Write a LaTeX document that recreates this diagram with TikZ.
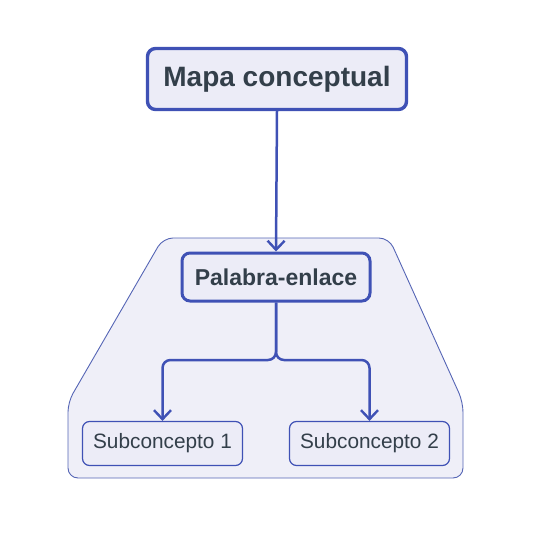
\documentclass[tikz,border=0pt]{standalone}
\usepackage{fontspec}
\setmainfont{Liberation Sans}
\usetikzlibrary{arrows.meta}

\definecolor{edgeblue}{HTML}{3F51B5}
\definecolor{boxfill}{HTML}{ECECF7}
\definecolor{zonefill}{HTML}{EFEFF8}
\definecolor{zoneline}{HTML}{5565B5}
\definecolor{inkgrey}{HTML}{333F4A}

\tikzset{
  concept/.style={draw=edgeblue, fill=boxfill, text=inkgrey, rounded corners=8pt, inner sep=0pt},
  link/.style={draw=edgeblue, line width=2.5pt, rounded corners=8pt,
    -{Straight Barb[length=9pt,width=17pt,line width=2.4pt]}}
}

\begin{document}
\begin{tikzpicture}[x=1pt,y=-1pt]

        \useasboundingbox (0,0) rectangle (534,536);

        % zona de fondo
        \path[fill=zonefill, draw=zoneline, line width=0.9pt, rounded corners=10pt]
          (163,238) -- (389,238) -- (463,402) -- (463,478) -- (68,478) -- (68,402) -- cycle;

        \begin{scope}[every node/.style={concept}]
          \node[line width=3.4pt, minimum width=259pt, minimum height=61pt,
                font=\bfseries\fontsize{28}{32}\selectfont] (mapa) at (277,79) {Mapa conceptual};
          \node[line width=3pt, minimum width=188pt, minimum height=48pt,
                font=\bfseries\fontsize{23}{27}\selectfont] (pal) at (276,277) {Palabra-enlace};
          \node[line width=1.2pt, minimum width=160pt, minimum height=44pt, rounded corners=7pt,
                font=\fontsize{20.8}{24}\selectfont] (sub1) at (162.5,443.5) {Subconcepto 1};
          \node[line width=1.2pt, minimum width=160pt, minimum height=44pt, rounded corners=7pt,
                font=\fontsize{20.8}{24}\selectfont] (sub2) at (369.5,443.5) {Subconcepto 2};
        \end{scope}

        \coordinate (split) at (276,360);

        \draw[link] (mapa.south) -- (pal.north);
        \draw[link] (pal.south) -- (split) -| (sub1.north);
        \draw[link] (pal.south) -- (split) -| (sub2.north);

      \end{tikzpicture}
\end{document}
